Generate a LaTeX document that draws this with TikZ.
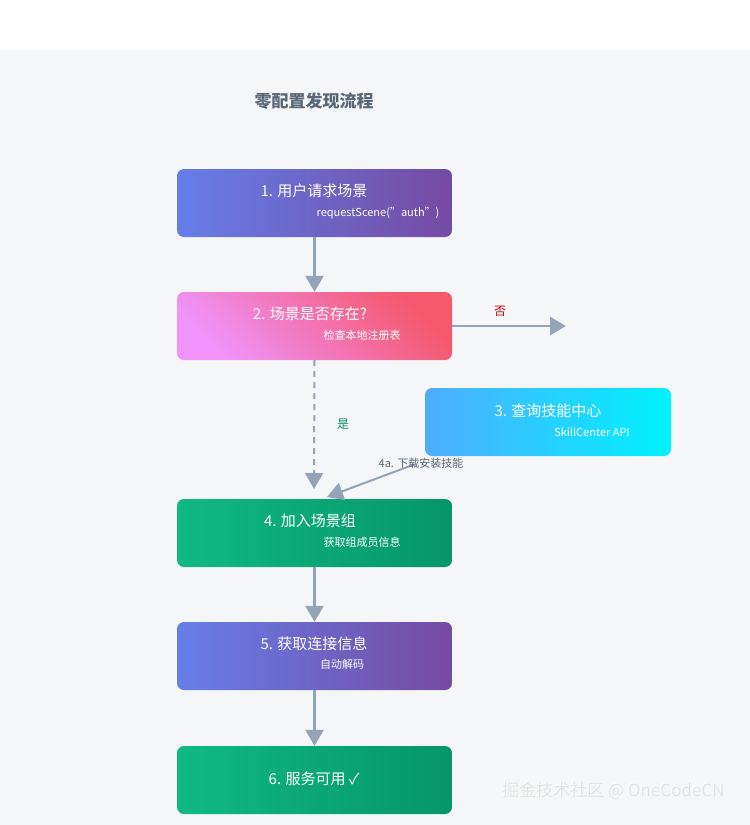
\documentclass[tikz,border=0pt]{standalone}
\usepackage{fontspec}
\setmainfont{Noto Sans CJK SC}
\usetikzlibrary{arrows.meta}
\definecolor{cA1}{HTML}{667EEA}\definecolor{cA2}{HTML}{764BA2}
\definecolor{cB1}{HTML}{F093FB}\definecolor{cB2}{HTML}{F5576C}
\definecolor{cC1}{HTML}{4FACFE}\definecolor{cC2}{HTML}{00F2FE}
\definecolor{cD1}{HTML}{10B981}\definecolor{cD2}{HTML}{059669}
\definecolor{arr}{HTML}{94A3B8}
\definecolor{ttl}{HTML}{5A6778}
\definecolor{bg}{HTML}{F5F6F7}
\begin{document}
\begin{tikzpicture}[x=1pt,y=-1pt,
  box/.style={rounded corners=7pt,minimum width=275pt,minimum height=68pt,inner sep=0pt},
  ttext/.style={text=white,font=\fontsize{15}{18}\selectfont},
  stext/.style={text=white,font=\fontsize{11}{13}\selectfont},
  conn/.style={draw=arr,line width=2.5pt,-{Triangle[length=16pt,width=18pt]}}]
\useasboundingbox (0,0) rectangle (750,825);
\fill[white] (0,0) rectangle (750,50);
\fill[bg] (0,50) rectangle (750,825);
\node[text=ttl,font=\bfseries\fontsize{17}{20}\selectfont] (title) at (314,101) {零配置发现流程};
\node[box,shading angle=135,left color=cA1,right color=cA2] (b1) at (314.5,203) {};
\node[box,left color=cB1,right color=cB2,shading angle=135] (b2) at (314.5,326) {};
\node[box,minimum width=246pt,left color=cC1,right color=cC2] (b3) at (548,422) {};
\node[box,left color=cD1,right color=cD2] (b4) at (314.5,533) {};
\node[box,left color=cA1,right color=cA2] (b5) at (314.5,656) {};
\node[box,left color=cD1,right color=cD2] (b6) at (314.5,780) {};
\node[ttext] (t1) at (314,191) {1. 用户请求场景};
\node[stext] (s1) at (378,213) {requestScene("auth")};
\node[ttext] (t2) at (310,314) {2. 场景是否存在?};
\node[stext] (s2) at (362,335) {检查本地注册表};
\node[ttext] (t3) at (548,411) {3. 查询技能中心};
\node[stext] (s3) at (592,432) {SkillCenter API};
\node[ttext] (t4) at (310,521) {4. 加入场景组};
\node[stext] (s4) at (362,542) {获取组成员信息};
\node[ttext] (t5) at (314,644) {5. 获取连接信息};
\node[stext] (s5) at (342,664) {自动解码};
\node[ttext] (t6) at (314,779) {6. 服务可用 ✓};
\coordinate (e2) at (566,326);
\path[conn] (b1.south) -- (b2.north);
\path[conn] (b2.east) -- (e2);
\node[text=red!80!black,font=\fontsize{12}{14}\selectfont] (no) at (500,311) {否};
\path[conn,dashed,dash pattern=on 6pt off 5pt,line width=2pt] (b2.south) -- (314,489);
\node[text=cD2,font=\fontsize{12}{14}\selectfont] (yes) at (343,424) {是};
\path[conn,line width=2pt] (b3.south west) ++(-10,8) coordinate (c3) -- (327,497);
\node[text=ttl,font=\fontsize{11}{13}\selectfont] (l4a) at (421,463) {4a. 下载安装技能};
\path[conn] (b4.south) -- (b5.north);
\path[conn] (b5.south) -- (b6.north);
\node[text=white,font=\fontsize{17}{20}\selectfont,anchor=east] (wm) at (727,790) {掘金技术社区 @ OneCodeCN};
\node[text=gray!40,font=\fontsize{17}{20}\selectfont,anchor=east,opacity=0.5] (wm2) at (728,791) {掘金技术社区 @ OneCodeCN};
\end{tikzpicture}
\end{document}
